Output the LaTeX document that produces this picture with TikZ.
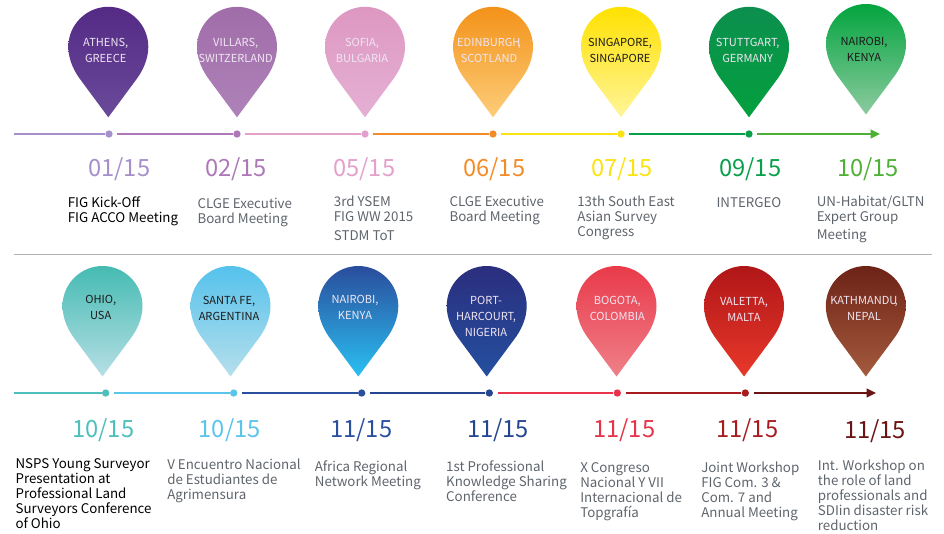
\documentclass[tikz,border=0pt]{standalone}
\usepackage{fontspec}
\setmainfont{Noto Sans CJK SC}
\usetikzlibrary{arrows.meta}

\definecolor{lineA}{HTML}{A78FCB}
\definecolor{lineB}{HTML}{AE78B8}
\definecolor{lineC}{HTML}{E3A0CB}
\definecolor{lineD}{HTML}{F28C28}
\definecolor{lineE}{HTML}{FBE30F}
\definecolor{lineF}{HTML}{09A04A}
\definecolor{lineG}{HTML}{4FB038}
\definecolor{lineH}{HTML}{4DBFBC}
\definecolor{lineI}{HTML}{5BC4EA}
\definecolor{lineJ}{HTML}{2A4F9F}
\definecolor{lineK}{HTML}{24468F}
\definecolor{lineL}{HTML}{E8334A}
\definecolor{lineM}{HTML}{A81C20}
\definecolor{lineN}{HTML}{6B1414}
\definecolor{textgrey}{HTML}{5F656C}
\definecolor{darkpin}{HTML}{1A1A1A}
\definecolor{lightpin}{HTML}{F0E6F2}

\tikzset{
    droplet/.style={insert path={(0,110.5) -- (-27,74) .. controls (-34,65) and (-40,53) .. (-40,40)
        .. controls (-40,18) and (-22,0) .. (0,0) .. controls (22,0) and (40,18) .. (40,40)
        .. controls (40,53) and (34,65) .. (27,74) -- cycle}},
    place/.style={align=center, inner sep=0pt, text=lightpin, font=\fontsize{8.3}{12}\selectfont},
    placedark/.style={place, text=darkpin},
    date/.style={inner sep=0pt, font=\fontsize{17.8}{20}\selectfont},
    event/.style={anchor=north west, align=left, inner sep=0pt, text=textgrey, execute at begin node=\strut, font=\fontsize{10}{11.25}\selectfont},
    eventdark/.style={event, text=black},
    dot/.style={circle, inner sep=0pt, minimum size=5.5pt},
    segment/.style={line width=1.2pt, shorten <=3.2pt},
    arrow/.style={segment, -{Triangle[length=7pt,width=6.5pt]}}
}

\begin{document}
\begin{tikzpicture}[x=0.75pt, y=-0.75pt]
    \useasboundingbox (0,0) rectangle (944,533);

    % top row of pins
    \shade[shift={(108.3,6.8)}, top color={rgb,255:red,84;green,42;blue,133}, bottom color={rgb,255:red,106;green,74;blue,154}, droplet];
    \shade[shift={(237,6.8)}, top color={rgb,255:red,160;green,109;blue,169}, bottom color={rgb,255:red,175;green,130;blue,185}, droplet];
    \shade[shift={(365,6.8)}, top color={rgb,255:red,221;green,152;blue,193}, bottom color={rgb,255:red,229;green,176;blue,212}, droplet];
    \shade[shift={(493,6.8)}, top color={rgb,255:red,243;green,146;blue,25}, bottom color={rgb,255:red,253;green,205;blue,121}, droplet];
    \shade[shift={(621,6.8)}, top color={rgb,255:red,255;green,225;blue,0}, bottom color={rgb,255:red,255;green,245;blue,154}, droplet];
    \shade[shift={(749,6.8)}, top color={rgb,255:red,12;green,143;blue,78}, bottom color={rgb,255:red,4;green,160;blue,62}, droplet];
    \shade[shift={(866,4)}, top color={rgb,255:red,3;green,164;blue,63}, middle color={rgb,255:red,3;green,164;blue,63}, bottom color={rgb,255:red,140;green,203;blue,159}, droplet];

    \node[place] (athens) at (105.7,50) {ATHENS,\\GREECE};
    \node[place] (villars) at (235.7,50) {VILLARS,\\SWITZERLAND};
    \node[place] (sofia) at (362,50) {SOFIA,\\BULGARIA};
    \node[place] (edinburgh) at (489,50) {EDINBURGH\kern-2pt,\\SCOTLAND};
    \node[placedark] (singapore) at (620,50) {SINGAPORE,\\SINGAPORE};
    \node[place] (stuttgart) at (747.7,50) {STUTTGART,\\GERMANY};
    \node[placedark] (nairobiA) at (864,49) {NAIROBI,\\KENYA};

    % top timeline
    \coordinate (startA) at (14,134);
    \coordinate (endA) at (880,134);
    \node[dot, fill=lineA] (dotA) at (109,134) {};
    \node[dot, fill=lineB] (dotB) at (237,134) {};
    \node[dot, fill=lineC] (dotC) at (365,134) {};
    \node[dot, fill=lineD] (dotD) at (493,134) {};
    \node[dot, fill=lineE] (dotE) at (621,134) {};
    \node[dot, fill=lineF] (dotF) at (749,134) {};
    \draw[segment, lineA, shorten <=0pt] (startA) -- (dotA);
    \draw[segment, lineB] (dotA) -- (dotB);
    \draw[segment, lineC] (dotB) -- (dotC);
    \draw[segment, lineD] (dotC) -- (dotD);
    \draw[segment, lineE] (dotD) -- (dotE);
    \draw[segment, lineF] (dotE) -- (dotF);
    \draw[arrow, lineG] (dotF) -- (endA);

    \node[date, text=lineA] (dateA) at (119.3,169) {01/15};
    \node[date, text=lineB] (dateB) at (236,169) {02/15};
    \node[date, text=lineC] (dateC) at (364.3,169) {05/15};
    \node[date, text=lineD] (dateD) at (494.3,169) {06/15};
    \node[date, text=lineE] (dateE) at (622,169) {07/15};
    \node[date, text=lineF] (dateF) at (750.3,169) {09/15};
    \node[date, text=lineG] (dateG) at (868,169) {10/15};

    \node[eventdark] (eventA) at (67.6,196.2) {FIG Kick-Off\\FIG ACCO Meeting};
    \node[event] (eventB) at (197.3,197.5) {CLGE Executive\\Board Meeting};
    \node[event] (eventC) at (333.6,195.5) {3rd YSEM\\FIG WW 2015\\[3pt]STDM ToT};
    \node[event] (eventD) at (449.3,195.5) {CLGE Executive\\Board Meeting};
    \node[event] (eventE) at (577,195.5) {13th South East\\Asian Survey\\Congress};
    \node[event] (eventF) at (716.3,196.5) {INTERGEO};
    \node[event] (eventG) at (816.6,195.5) {UN-Habitat/GLTN\\Expert Group\\[2.5pt]Meeting};

    \coordinate (ruleL) at (14,254);
    \coordinate (ruleR) at (932,254);
    \draw[gray!60, line width=0.7pt] (ruleL) -- (ruleR);

    % bottom row of pins
    \shade[shift={(102.5,266)}, top color={rgb,255:red,69;green,187;blue,178}, bottom color={rgb,255:red,183;green,223;blue,230}, droplet];
    \shade[shift={(230.5,266)}, top color={rgb,255:red,85;green,194;blue,236}, bottom color={rgb,255:red,182;green,223;blue,236}, droplet];
    \shade[shift={(358.3,266)}, top color={rgb,255:red,42;green,77;blue,156}, middle color={rgb,255:red,44;green,105;blue,174}, bottom color={rgb,255:red,42;green,192;blue,242}, droplet];
    \shade[shift={(486.7,266)}, top color={rgb,255:red,43;green,46;blue,126}, bottom color={rgb,255:red,36;green,80;blue,159}, droplet];
    \shade[shift={(616.5,266)}, top color={rgb,255:red,233;green,58;blue,74}, bottom color={rgb,255:red,239;green,128;blue,137}, droplet];
    \shade[shift={(744,266)}, top color={rgb,255:red,176;green,22;blue,24}, middle color={rgb,255:red,221;green,27;blue,22}, bottom color={rgb,255:red,232;green,56;blue,42}, droplet];
    \shade[shift={(865.8,266)}, top color={rgb,255:red,109;green,35;blue,22}, bottom color={rgb,255:red,164;green,90;blue,61}, droplet];

    \node[placedark] (ohio) at (100.7,307.5) {OHIO,\\USA};
    \node[placedark] (santafe) at (229,308.5) {SANTA FE,\\ARGENTINA};
    \node[place] (nairobiB) at (355,307.5) {NAIROBI,\\KENYA};
    \node[place] (port) at (486,316) {PORT-\\HARCOURT,\\NIGERIA};
    \node[place] (bogota) at (617.3,308.5) {BOGOTA,\\COLOMBIA};
    \node[place] (valetta) at (744,309) {VALETTA,\\MALTA};
    \node[place] (kathmandu) at (864,308.5) {KATHMANDU\kern-2pt,\\NEPAL};

    % bottom timeline
    \coordinate (startB) at (14,393);
    \coordinate (endB) at (876,393);
    \node[dot, fill=lineH] (dotH) at (105.7,393) {};
    \node[dot, fill=lineI] (dotI) at (233.7,393) {};
    \node[dot, fill=lineJ] (dotJ) at (361.7,393) {};
    \node[dot, fill=lineK] (dotK) at (489.3,393) {};
    \node[dot, fill=lineL] (dotL) at (617.3,393) {};
    \node[dot, fill=lineM] (dotM) at (745.3,393) {};
    \draw[segment, lineH, shorten <=0pt] (startB) -- (dotH);
    \draw[segment, lineI] (dotH) -- (dotI);
    \draw[segment, lineJ] (dotI) -- (dotJ);
    \draw[segment, lineK] (dotJ) -- (dotK);
    \draw[segment, lineL] (dotK) -- (dotL);
    \draw[segment, lineM] (dotL) -- (dotM);
    \draw[arrow, lineN] (dotM) -- (endB);

    \node[date, text=lineH] (dateH) at (103.3,430.5) {10/15};
    \node[date, text=lineI] (dateI) at (229.8,430.5) {10/15};
    \node[date, text=lineJ] (dateJ) at (361.3,430.5) {11/15};
    \node[date, text=lineK] (dateK) at (498,430.5) {11/15};
    \node[date, text=lineL] (dateL) at (624.3,430.5) {11/15};
    \node[date, text=lineM] (dateM) at (747.3,430.5) {11/15};
    \node[date, text=lineN] (dateN) at (875,431.5) {11/15};

    \node[eventdark] (eventH) at (15.3,458.5) {NSPS Young Surveyor\\Presentation at\\Professional Land\\Surveyors Conference\\of Ohio};
    \node[event] (eventI) at (167,458.5) {V Encuentro Nacional\\de Estudiantes de\\Agrimensura};
    \node[event] (eventJ) at (314.6,460.5) {Africa Regional\\Network Meeting};
    \node[event] (eventK) at (445.9,460.5) {1st Professional\\Knowledge Sharing\\Conference};
    \node[event] (eventL) at (580,462) {X Congreso\\Nacional Y VII\\Internacional de\\Topgrafía};
    \node[event] (eventM) at (701,462) {Joint Workshop\\FIG Com. 3 \&\\Com. 7 and\\Annual Meeting};
    \node[event] (eventN) at (817.6,459.5) {Int. Workshop on\\the role of land\\professionals and\\SDIin disaster risk\\reduction};
\end{tikzpicture}
\end{document}
